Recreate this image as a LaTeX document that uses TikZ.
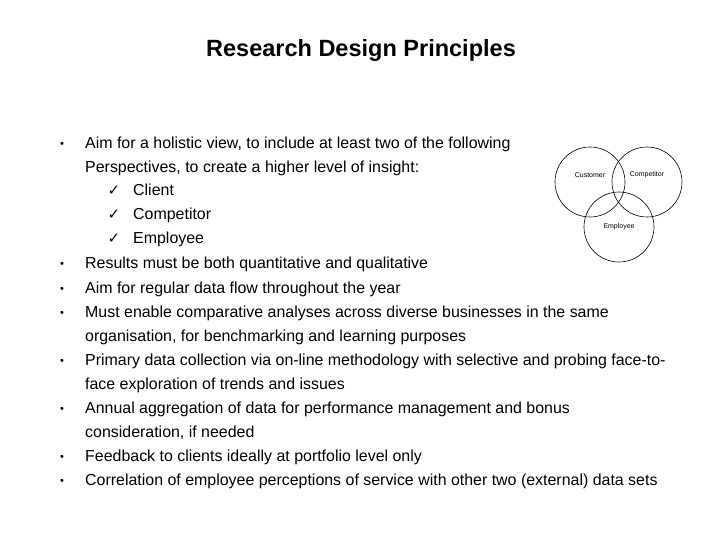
\documentclass[tikz,border=0pt]{standalone}
\usepackage{fontspec}
\setmainfont{Liberation Sans}
\newfontfamily\djfont{DejaVu Sans}
\begin{document}
\begin{tikzpicture}[x=1bp,y=-1bp,
  txt/.style={anchor=base west,inner sep=0pt,font=\fontsize{16}{18}\selectfont},
  bul/.style={anchor=base,inner sep=0pt,font=\fontsize{11}{12}\selectfont},
  vc/.style={draw,circle,minimum size=70bp,inner sep=0pt,line width=0.6pt},
  vl/.style={inner sep=0pt,font=\fontsize{7}{8}\selectfont}]
\useasboundingbox (0,0) rectangle (720,540);
\node[inner sep=0pt,font=\bfseries\fontsize{23.6}{26}\selectfont] (title) at (361,50) {Research Design Principles};
\foreach \y/\t [count=\i] in {145/{Aim for a holistic view, to include at least two of the following},
  265/{Results must be both quantitative and qualitative},
  289/{Aim for regular data flow throughout the year},
  313/{Must enable comparative analyses across diverse businesses in the same},
  361/{Primary data collection via on-line methodology with selective and probing face-to-},
  409/{Annual aggregation of data for performance management and bonus},
  457/{Feedback to clients ideally at portfolio level only},
  481/{Correlation of employee perceptions of service with other two (external) data sets}}
 {\node[bul] (b\i) at (62,\y+3) {•}; \node[txt] (t\i) at (85,\y+4) {\t};}
\foreach \y/\t [count=\i] in {169/{Perspectives, to create a higher level of insight:},
  337/{organisation, for benchmarking and learning purposes},
  385/{face exploration of trends and issues},
  433/{consideration, if needed}}
 {\node[txt] (c\i) at (85,\y+4) {\t};}
\foreach \y/\t [count=\i] in {192/Client,216/Competitor,240/Employee}
 {\node[anchor=base,inner sep=0pt,font=\djfont\bfseries\fontsize{15}{16}\selectfont] (k\i) at (114,\y+4) {✓};
  \node[txt] (p\i) at (133,\y+4) {\t};}
\node[vc] (cu) at (590,182) {}; \node[vl] at ([yshift=7bp]cu.center) {Customer};
\node[vc] (co) at (647,182) {}; \node[vl] at ([yshift=7bp]co.center) {Competitor};
\node[vc] (em) at (619,227) {}; \node[vl] at (em.center) {Employee};
\end{tikzpicture}
\end{document}
